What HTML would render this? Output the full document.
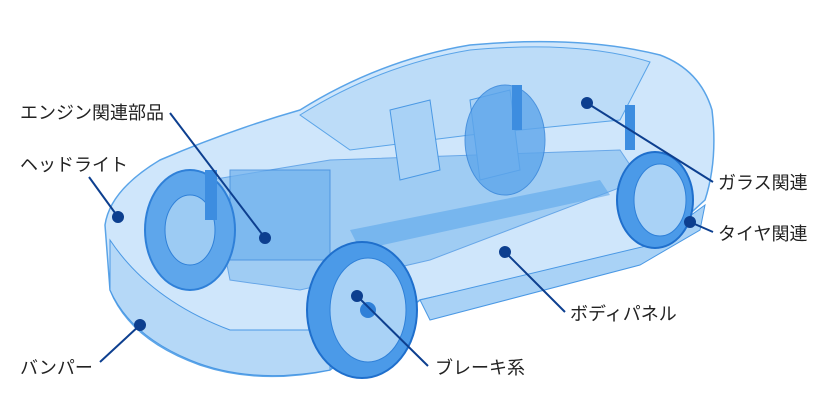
<!DOCTYPE html>
<html><head><meta charset="utf-8"><style>
html,body{margin:0;padding:0;background:#fff;width:840px;height:420px;overflow:hidden}
svg{display:block}
text{font-family:"Liberation Sans","Noto Sans CJK JP",sans-serif;font-size:18px;fill:#222}
</style></head><body>
<svg width="840" height="420" viewBox="0 0 840 420">
<path d="M105,225 Q110,190 160,160 Q230,130 300,110 Q380,60 470,45 Q580,35 660,55 Q700,70 712,110 Q718,160 705,200 L650,250 L420,300 L330,370 Q260,385 200,365 Q130,340 110,290 Z" fill="#cfe6fb" stroke="#5aa4e8" stroke-width="1.5"/>
<path d="M300,115 Q380,65 470,50 Q580,40 650,62 L620,120 L470,135 L350,150 Z" fill="#bcdcf8" stroke="#5aa4e8"/>
<path d="M420,300 L650,245 L705,205 L700,230 L640,265 L430,320 Z" fill="#a9d2f6" stroke="#4a98e4"/>
<path d="M110,240 Q150,300 230,330 L330,330 L330,370 Q250,385 190,360 Q130,335 110,290 Z" fill="#b5d8f7" stroke="#4a98e4"/>
<path d="M210,180 L330,160 L620,150 L640,180 L430,260 L300,290 L230,280 Z" fill="#8cc2f1" opacity=".7" stroke="#3d8de0"/>
<rect x="230" y="170" width="100" height="90" fill="#6fb1ee" opacity=".7" stroke="#2f80d8"/>
<path d="M350,230 L600,180 L610,195 L360,250 Z" fill="#5ea6eb" opacity=".6"/>
<path d="M390,110 L430,100 L440,170 L400,180 Z" fill="#a9d2f6" stroke="#4a98e4"/>
<path d="M470,100 L510,90 L520,170 L480,180 Z" fill="#a9d2f6" stroke="#4a98e4"/>
<ellipse cx="190" cy="230" rx="45" ry="60" fill="#5ea6eb" stroke="#2f80d8" stroke-width="2"/>
<ellipse cx="190" cy="230" rx="25" ry="35" fill="#9ccbf3" stroke="#2f80d8"/>
<ellipse cx="505" cy="140" rx="40" ry="55" fill="#5ea6eb" opacity=".8" stroke="#2f80d8"/>
<ellipse cx="362" cy="310" rx="55" ry="68" fill="#4b9ae8" stroke="#1f6fcc" stroke-width="2"/>
<ellipse cx="368" cy="310" rx="38" ry="52" fill="#a9d2f6" stroke="#2f80d8"/>
<circle cx="368" cy="310" r="8" fill="#2f80d8"/>
<ellipse cx="655" cy="200" rx="38" ry="48" fill="#4b9ae8" stroke="#1f6fcc" stroke-width="2"/>
<ellipse cx="660" cy="200" rx="26" ry="36" fill="#a9d2f6" stroke="#2f80d8"/>
<rect x="205" y="170" width="12" height="50" fill="#3d8de0"/>
<rect x="512" y="85" width="10" height="45" fill="#3d8de0"/>
<rect x="625" y="105" width="10" height="45" fill="#3d8de0"/>
<g stroke="#0d3f8f" stroke-width="2" fill="#0d3f8f">
<line x1="170" y1="113" x2="265" y2="238"/><circle cx="265" cy="238" r="5"/>
<line x1="89" y1="177" x2="118" y2="217"/><circle cx="118" cy="217" r="5"/>
<line x1="100" y1="362" x2="140" y2="325"/><circle cx="140" cy="325" r="5"/>
<line x1="587" y1="103" x2="713" y2="182"/><circle cx="587" cy="103" r="5"/>
<line x1="690" y1="222" x2="713" y2="232"/><circle cx="690" cy="222" r="5"/>
<line x1="505" y1="252" x2="565" y2="312"/><circle cx="505" cy="252" r="5"/>
<line x1="357" y1="296" x2="428" y2="366"/><circle cx="357" cy="296" r="5"/>
</g>
<text x="20" y="119">エンジン関連部品</text>
<text x="20" y="171">ヘッドライト</text>
<text x="20" y="374">バンパー</text>
<text x="718" y="189">ガラス関連</text>
<text x="718" y="240">タイヤ関連</text>
<text x="570" y="320">ボディパネル</text>
<text x="435" y="374">ブレーキ系</text>
</svg>
</body></html>
